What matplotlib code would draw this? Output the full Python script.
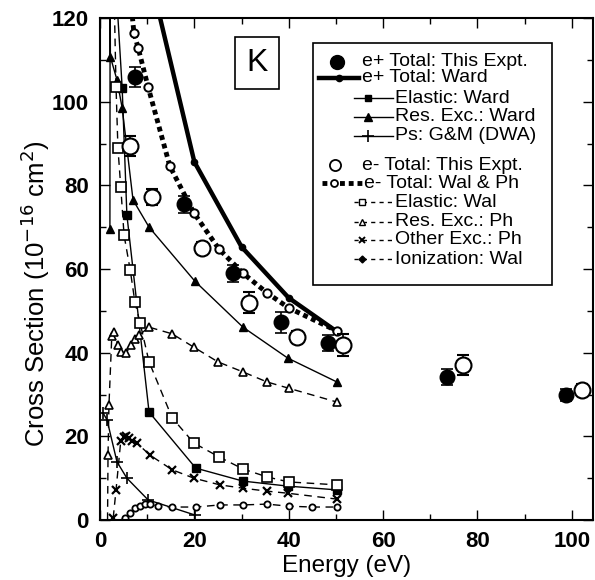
import matplotlib
matplotlib.use("Agg")
import matplotlib.pyplot as plt
from matplotlib.patches import Rectangle

plt.rcParams['font.family'] = ['Liberation Sans', 'DejaVu Sans']

# e+ and e- total cross sections, this experiment
ep_x = [7.4, 17.8, 28.2, 38.3, 48.3, 73.5, 98.7]
ep_y = [105.9, 75.5, 59.0, 47.3, 42.3, 34.2, 29.9]
ep_err = [2.5, 2.0, 2.0, 2.5, 2.0, 2.0, 1.5]

em_x = [6.4, 11.0, 21.6, 31.6, 41.7, 51.5, 76.9, 102.1]
em_y = [89.4, 77.2, 65.0, 51.9, 43.7, 41.8, 37.1, 31.1]
em_err = [2.5, 2.0, 1.5, 2.5, 1.5, 2.7, 2.4, 1.5]

# e+ theory (Ward)
ward_tot_x = [10, 20, 30, 40, 50]
ward_tot_y = [133, 85.6, 65.3, 53.1, 45.2]
ward_el_x = [3.0, 4.7, 5.7, 10.4, 20.3, 30.3, 39.8, 50.2]
ward_el_y = [135, 103.3, 72.9, 25.8, 12.4, 9.3, 8.1, 7.2]
ward_res_x = [2.1, 2.15, 2.2, 3.6, 4.7, 7.0, 10.4, 20.1, 30.3, 39.8, 50.2]
ward_res_y = [69.6, 135, 110.7, 105.2, 98.5, 76.5, 70.0, 57.1, 46.1, 38.7, 33.0]
ps_x = [0.7, 1.5, 3.6, 5.7, 10.2, 20.1]
ps_y = [25.5, 23.9, 13.9, 10.0, 4.8, 1.2]

# e- theory (Walters, Phelps)
wal_tot_x = [6.0, 7.2, 8.1, 10.2, 14.8, 19.9, 25.2, 30.3, 35.4, 40.0, 50.2]
wal_tot_y = [130, 116.4, 112.8, 103.5, 84.6, 73.4, 64.8, 59.0, 54.3, 50.7, 45.2]
wal_el_x = [3.0, 3.4, 3.8, 4.4, 5.1, 6.4, 7.4, 8.5, 10.4, 15.3, 19.9, 25.2, 30.3, 35.4, 40.0, 50.2]
wal_el_y = [125, 103.5, 88.9, 79.6, 68.1, 59.8, 52.1, 47.1, 37.8, 24.4, 18.4, 15.1, 12.2, 10.3, 9.1, 8.4]
ph_res_x = [1.6, 1.7, 1.9, 2.5, 2.9, 3.8, 4.4, 5.5, 6.6, 7.4, 8.3, 10.4, 15.3, 19.9, 25.0, 30.3, 35.4, 40.0, 50.2]
ph_res_y = [0, 15.5, 27.5, 44.0, 44.9, 41.8, 40.2, 39.9, 41.8, 43.3, 44.2, 46.1, 44.5, 41.3, 37.8, 35.4, 33.0, 31.5, 28.2]
ph_oth_x = [2.8, 3.4, 4.4, 5.0, 5.5, 6.2, 6.8, 7.8, 10.6, 15.3, 19.9, 25.4, 30.3, 35.4, 39.8, 50.2]
ph_oth_y = [0.5, 7.2, 18.9, 19.8, 20.0, 19.6, 18.9, 18.4, 15.5, 12.0, 10.0, 8.4, 7.6, 6.9, 6.4, 5.0]
ion_x = [4.3, 5.3, 6.4, 7.4, 8.5, 9.5, 10.6, 12.3, 15.3, 20.3, 25.4, 30.3, 35.4, 40.0, 45.0, 50.2]
ion_y = [0, 0.5, 1.7, 2.9, 3.3, 3.8, 3.8, 3.3, 3.1, 3.1, 3.6, 3.6, 3.8, 3.3, 3.1, 3.1]

fig = plt.figure(figsize=(5.95, 5.80), dpi=100)
ax = fig.add_axes([100 / 595, 60 / 580, 493 / 595, 502 / 580])

thin = dict(color='k', lw=1.0)
dash = dict(color='k', lw=1.0, dashes=(5.5, 4))

# theory curves
ax.plot(ward_tot_x, ward_tot_y, '-', color='k', lw=3.2, marker='o', ms=4.5, markevery=[1, 2, 3, 4])
ax.plot(wal_tot_x, wal_tot_y, color='k', lw=3.5, dashes=(1.0, 0.8), dash_capstyle='butt',
        marker='o', ms=6, mfc='white', mew=1.4, markevery=list(range(1, len(wal_tot_x))))
ax.plot(ward_el_x, ward_el_y, marker='s', ms=5.5, markevery=list(range(1, len(ward_el_x))), **thin)
ax.plot(ward_res_x, ward_res_y, marker='^', ms=6, markevery=[0] + list(range(2, len(ward_res_x))), **thin)
ax.plot(ps_x, ps_y, marker='+', ms=9, mew=1.2, **thin)
ax.plot(wal_el_x, wal_el_y, marker='s', ms=6.5, mfc='white', mew=1.2,
        markevery=list(range(1, len(wal_el_x))), **dash)
ax.plot(ph_res_x, ph_res_y, marker='^', ms=6, mfc='white', mew=1.2,
        markevery=list(range(1, len(ph_res_x))), **dash)
ax.plot(ph_oth_x, ph_oth_y, marker='x', ms=6, mew=1.6, **dash)
ax.plot(ion_x, ion_y, marker='o', ms=4.5, mfc='white', mew=1.3,
        markevery=list(range(1, len(ion_x))), **dash)

# experiment
ax.errorbar(ep_x, ep_y, yerr=ep_err, fmt='o', ms=10.5, color='k', mfc='k',
            elinewidth=1.2, capsize=4, capthick=1.2, zorder=5)
ax.errorbar(em_x, em_y, yerr=em_err, fmt='o', ms=11.5, color='k', mfc='white', mew=1.5,
            elinewidth=1.2, capsize=4, capthick=1.2, zorder=5)

ax.set_xlim(0, 104.5)
ax.set_ylim(0, 120)
ax.set_xticks([0, 20, 40, 60, 80, 100])
ax.set_xticks(range(10, 101, 10), minor=True)
ax.set_yticks([0, 20, 40, 60, 80, 100, 120])
ax.set_yticks(range(10, 120, 10), minor=True)
ax.tick_params(which='both', direction='in', top=True, right=True, width=1.0)
ax.tick_params(which='major', length=7, labelsize=16)
ax.tick_params(which='minor', length=4)
ax.tick_params(axis='x', pad=8)
ax.tick_params(axis='y', pad=8)
for lab in ax.get_xticklabels() + ax.get_yticklabels():
    lab.set_fontweight('bold')
for s in ax.spines.values():
    s.set_linewidth(1.5)

ax.set_xlabel('Energy (eV)', fontsize=17.5, labelpad=2)
ax.set_ylabel('Cross Section (10$^{-16}$ cm$^{2}$)', fontsize=18.5)
ax.yaxis.set_label_coords(-0.098, 0.45)

# target label
ax.text(0.318, 0.910, 'K', transform=ax.transAxes, fontsize=23, ha='center', va='center',
        bbox=dict(boxstyle='square,pad=0.35', fc='white', ec='k', lw=1.2))

# hand-made legend (handles are indented differently per row)
T = ax.transAxes
ax.add_patch(Rectangle((0.432, 0.468), 0.485, 0.482, transform=T, fill=False, ec='k', lw=1.2, zorder=6))
fs = 14


def row(y, x0, x1, mx, tx, label, line_kw=None, mk_kw=None):
    if line_kw is not None:
        ax.plot([x0, x1], [y, y], transform=T, clip_on=False, zorder=7, **line_kw)
    if mk_kw is not None:
        ax.plot([mx], [y], transform=T, clip_on=False, zorder=8, ls='none', color='k', **mk_kw)
    ax.text(tx, y, label, transform=T, fontsize=fs, va='center', ha='left', zorder=8)


row(0.913, 0, 0, 0.481, 0.531, 'e+ Total: This Expt.', None, dict(marker='o', ms=10, mfc='k'))
row(0.881, 0.444, 0.525, 0.485, 0.531, 'e+ Total: Ward', dict(color='k', lw=3.2), dict(marker='o', ms=4.5, mfc='k'))
row(0.840, 0.515, 0.594, 0.544, 0.598, 'Elastic: Ward', thin, dict(marker='s', ms=5, mfc='k'))
row(0.803, 0.515, 0.594, 0.544, 0.598, 'Res. Exc.: Ward', thin, dict(marker='^', ms=5.5, mfc='k'))
row(0.765, 0.515, 0.594, 0.544, 0.598, 'Ps: G&M (DWA)', thin, dict(marker='+', ms=9, mew=1.2))
row(0.707, 0, 0, 0.477, 0.531, 'e- Total: This Expt.', None, dict(marker='o', ms=8, mfc='white', mew=1.3))
row(0.671, 0.450, 0.531, 0.475, 0.535, 'e- Total: Wal & Ph',
    dict(color='k', lw=3.5, dashes=(1.0, 0.8), dash_capstyle='butt'), dict(marker='o', ms=5, mfc='white', mew=1.3))
row(0.633, 0.515, 0.594, 0.531, 0.598, 'Elastic: Wal', dict(color='k', lw=1.0, dashes=(3, 3)),
    dict(marker='s', ms=4.5, mfc='white', mew=1.0))
row(0.594, 0.515, 0.594, 0.531, 0.598, 'Res. Exc.: Ph', dict(color='k', lw=1.0, dashes=(3, 3)),
    dict(marker='^', ms=5, mfc='white', mew=1.0))
row(0.558, 0.515, 0.594, 0.531, 0.598, 'Other Exc.: Ph', dict(color='k', lw=1.0, dashes=(3, 3)),
    dict(marker='x', ms=4.5, mew=1.4))
row(0.519, 0.515, 0.594, 0.531, 0.598, 'Ionization: Wal', dict(color='k', lw=1.0, dashes=(3, 3)),
    dict(marker='D', ms=3.5, mfc='k'))

fig.savefig('out.png', dpi=100, facecolor='white')
